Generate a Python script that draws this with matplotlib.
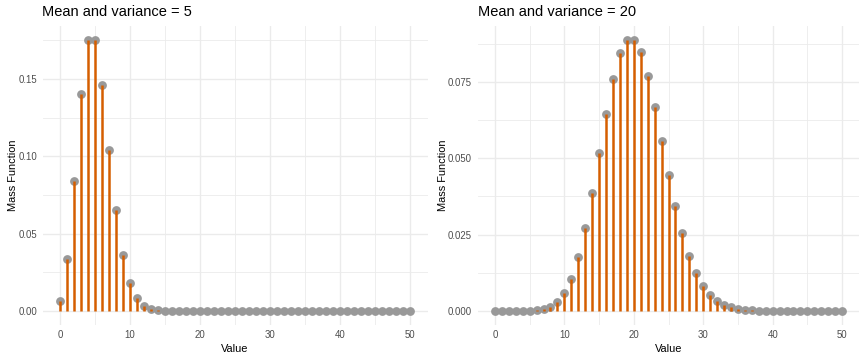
import matplotlib
matplotlib.use("Agg")
import matplotlib.pyplot as plt
import numpy as np

plt.rcParams['font.family'] = ['Liberation Sans', 'DejaVu Sans']

values = list(range(0, 51))

pmf_mean5 = [0.0067, 0.0337, 0.0842, 0.1404, 0.1755, 0.1755, 0.1462, 0.1044,
             0.0653, 0.0363, 0.0181, 0.0082, 0.0034, 0.0013, 0.0005, 0.0002,
             0.0001] + [0.0] * 34

pmf_mean20 = [0.0, 0.0, 0.0, 0.0, 0.0, 0.0001, 0.0002, 0.0005, 0.0013, 0.0029,
              0.0058, 0.0106, 0.0176, 0.0271, 0.0387, 0.0516, 0.0646, 0.0760,
              0.0844, 0.0888, 0.0888, 0.0846, 0.0769, 0.0669, 0.0557, 0.0446,
              0.0343, 0.0254, 0.0181, 0.0125, 0.0083, 0.0054, 0.0034, 0.0020,
              0.0012, 0.0007, 0.0004, 0.0002, 0.0001] + [0.0] * 12

titles = ["Mean and variance = 5", "Mean and variance = 20"]
y_major = [[0.0, 0.05, 0.10, 0.15], [0.0, 0.025, 0.05, 0.075]]
y_labels = [["0.00", "0.05", "0.10", "0.15"], ["0.000", "0.025", "0.050", "0.075"]]
x_major = [0, 10, 20, 30, 40, 50]

W, H = 864, 360
fig = plt.figure(figsize=(W / 100, H / 100), dpi=100)

panels = [(42.5, 427.5), (477.6, 859.4)]
top, bottom = 26, 324.6

seg_color = "#D55E00"
pt_color = "#999999"
grid_color = "#EBEBEB"

for i, (pmf, (l, r)) in enumerate(zip([pmf_mean5, pmf_mean20], panels)):
    ax = fig.add_axes([l / W, (H - bottom) / H, (r - l) / W, (bottom - top) / H])
    pmf = np.array(pmf)
    ymax = pmf.max()
    ax.set_xlim(-2.5, 52.5)
    ax.set_ylim(-0.05 * ymax, ymax * 1.05)
    ax.scatter(values, pmf, s=40, color=pt_color, zorder=2, linewidths=0)
    ax.vlines(values, 0, pmf, color=seg_color, linewidth=1.8, zorder=3)
    ax.set_xticks(x_major)
    ax.set_xticks([5, 15, 25, 35, 45], minor=True)
    ax.set_yticks(y_major[i])
    ax.set_yticklabels(y_labels[i])
    step = y_major[i][1]
    ax.set_yticks([step / 2 + k * step for k in range(4)], minor=True)
    ax.grid(True, which="major", color=grid_color, linewidth=1.0, zorder=0)
    ax.grid(True, which="minor", color=grid_color, linewidth=0.6, zorder=0)
    ax.set_axisbelow(True)
    for s in ax.spines.values():
        s.set_visible(False)
    ax.tick_params(which="both", length=0, labelsize=6.9, labelcolor="#4D4D4D", pad=4)
    ax.set_xlabel("Value", fontsize=7.9, labelpad=3)
    ax.set_ylabel("Mass Function", fontsize=7.9, labelpad=0)
    ax.set_title(titles[i], loc="left", fontsize=10.5, pad=7)

fig.savefig("out.png", dpi=100)
